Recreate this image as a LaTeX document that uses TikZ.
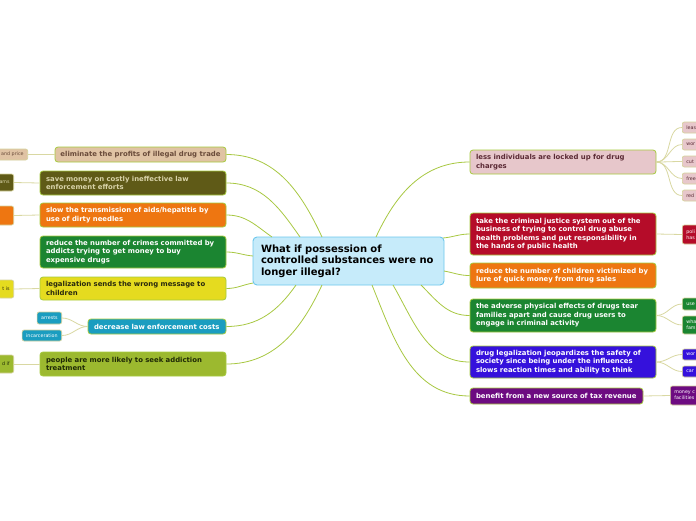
\documentclass[tikz,border=0pt]{standalone}
\usepackage{fontspec}
\setmainfont{DejaVu Sans}
\definecolor{bordergreen}{HTML}{A6CA3E}
\definecolor{linkgreen}{HTML}{A8C842}
\definecolor{sublinkc}{HTML}{D9D8A2}
\definecolor{subborder}{HTML}{D6D29C}
\definecolor{tanfill}{HTML}{E0C3A4}
\definecolor{tantext}{HTML}{6A4B3A}
\definecolor{olivefill}{HTML}{5F5A17}
\definecolor{olivetext}{HTML}{D8D3A8}
\definecolor{orangefill}{HTML}{EE7611}
\definecolor{greenfill}{HTML}{1B8531}
\definecolor{yellowfill}{HTML}{E5DB1F}
\definecolor{yellowtext}{HTML}{2A2A0E}
\definecolor{tealfill}{HTML}{1A9DC0}
\definecolor{ygfill}{HTML}{9CB92F}
\definecolor{ygtext}{HTML}{1F2A06}
\definecolor{pinkfill}{HTML}{E7C7CB}
\definecolor{pinktext}{HTML}{5B2A35}
\definecolor{crimsonfill}{HTML}{B50C29}
\definecolor{bluefill}{HTML}{3511DC}
\definecolor{purplefill}{HTML}{6D0B81}
\definecolor{centralfill}{HTML}{C6EBFA}
\definecolor{centralborder}{HTML}{6DC7EC}
\tikzset{
  topic/.style={draw=bordergreen, line width=0.8pt, rounded corners=3pt, inner xsep=6pt, inner ysep=1pt, align=left, font=\fontsize{6.9}{8.4}\selectfont\bfseries},
  subtopic/.style={draw=subborder, line width=0.7pt, rounded corners=2pt, inner xsep=4pt, inner ysep=1pt, align=left, font=\fontsize{4.8}{5.8}\selectfont},
  link/.style={draw=linkgreen, line width=0.8pt},
  sublink/.style={draw=sublinkc, line width=0.8pt},
}
\begin{document}
\begin{tikzpicture}[x=1pt,y=-1pt]
\useasboundingbox (0,0) rectangle (696,520);
\clip (0,0) rectangle (696,520);
\fill[white] (0,0) rectangle (696,520);

% central
\node[draw=centralborder, fill=centralfill, line width=0.9pt, rounded corners=4pt, inner xsep=8pt, inner ysep=1pt, text width=175pt, minimum height=48pt, align=left, font=\fontsize{10}{11.7}\selectfont\bfseries] (c) at (348.5,261) {What if possession of\\controlled substances were no\\longer illegal?};

% anchor points on central node
\coordinate (s1) at (322,237);
\coordinate (s2) at (300,237);
\coordinate (s3) at (272,237);
\coordinate (s4) at (253,256);
\coordinate (s5) at (253,283);
\coordinate (s6) at (296,285);
\coordinate (s7) at (322,285);
\coordinate (t1) at (376,237);
\coordinate (t2) at (443,238);
\coordinate (t3) at (444,271);
\coordinate (t4) at (421,285);
\coordinate (t5) at (393,285);
\coordinate (t6) at (372,285);

% left topics
\node[topic, fill=tanfill, text=tantext, inner xsep=3pt, minimum width=171pt, minimum height=15pt] (L1) at (140.5,154.5) {eliminate the profits of illegal drug trade};
\node[topic, fill=olivefill, text=olivetext, text width=174pt, minimum height=24pt] (L2) at (133,183) {save money on costly ineffective law\\enforcement efforts};
\node[topic, fill=orangefill, text=white, text width=174pt, minimum height=24pt] (L3) at (133,215) {slow the transmission of aids/hepatitis by\\use of dirty needles};
\node[topic, fill=greenfill, text=white, text width=174pt, minimum height=32pt] (L4) at (133,252) {reduce the number of crimes committed by\\addicts trying to get money to buy\\expensive drugs};
\node[topic, fill=yellowfill, text=yellowtext, text width=174pt, minimum height=23pt] (L5) at (133,288.5) {legalization sends the wrong message to\\children};
\node[topic, fill=tealfill, text=white, text width=126pt, minimum height=15pt] (L6) at (157,326.5) {decrease law enforcement costs};
\node[topic, fill=ygfill, text=ygtext, text width=174pt, minimum height=24pt] (L7) at (133,364) {people are more likely to seek addiction\\treatment};

% right topics
\node[topic, fill=pinkfill, text=pinktext, text width=174pt, minimum height=24pt] (R1) at (563,162) {less individuals are locked up for drug\\charges};
\node[topic, fill=crimsonfill, text=white, text width=174pt, minimum height=42pt] (R2) at (563,234) {take the criminal justice system out of the\\business of trying to control drug abuse\\health problems and put responsibility in\\the hands of public health};
\node[topic, fill=orangefill, text=white, text width=174pt, minimum height=25pt] (R3) at (563,275.5) {reduce the number of children victimized by\\lure of quick money from drug sales};
\node[topic, fill=greenfill, text=white, text width=174pt, minimum height=33pt] (R4) at (563,315.5) {the adverse physical effects of drugs tear\\families apart and cause drug users to\\engage in criminal activity};
\node[topic, fill=bluefill, text=white, text width=174pt, minimum height=32pt] (R5) at (563,362) {drug legalization jeopardizes the safety of\\society since being under the influences\\slows reaction times and ability to think};
\node[topic, fill=purplefill, text=white, text width=161pt, minimum height=16pt] (R6) at (556.5,396) {benefit from a new source of tax revenue};

% main links (angles are page angles)
\draw[link] (s1) to[out=115,in=0] (L1.east);
\draw[link] (s2) to[out=125,in=0] (L2.east);
\draw[link] (s3) to[out=145,in=0] (L3.east);
\draw[link] (s4) to[out=175,in=0] (L4.east);
\draw[link] (s5) to[out=190,in=0] (L5.east);
\draw[link] (s6) to[out=235,in=0] (L6.east);
\draw[link] (s7) to[out=245,in=0] (L7.east);
\draw[link] (t1) to[out=65,in=180] (R1.west);
\draw[link] (t2) to[out=5,in=180] (R2.west);
\draw[link] (t3) to[out=350,in=180] (R3.west);
\draw[link] (t4) to[out=315,in=180] (R4.west);
\draw[link] (t5) to[out=300,in=180] (R5.west);
\draw[link] (t6) to[out=292,in=180] (R6.west);

% left subtopics
\node[subtopic, fill=tanfill, text=tantext, anchor=east, minimum height=11pt] (a1) at (28,154.5) {and price};
\node[subtopic, fill=olivefill, text=olivetext, anchor=east, minimum height=17pt] (a2) at (14,182.5) {ams};
\node[subtopic, fill=orangefill, anchor=east, minimum height=19pt, minimum width=30pt] (a3) at (14,215.5) {};
\node[subtopic, fill=yellowfill, text=yellowtext, anchor=east, minimum height=18pt] (a5) at (14,289) {t is};
\node[subtopic, fill=tealfill, text=white, anchor=east, minimum height=12pt] (a6a) at (62,318) {arrests};
\node[subtopic, fill=tealfill, text=white, anchor=east, minimum height=11pt] (a6b) at (62,335.5) {incarceration};
\node[subtopic, fill=ygfill, text=ygtext, anchor=east, minimum height=18pt] (a7) at (14,364) {d if};

\draw[sublink] (L1.west) -- (a1.east);
\draw[sublink] (L2.west) -- (a2.east);
\draw[sublink] (L3.west) -- (a3.east);
\draw[sublink] (L5.west) -- (a5.east);
\draw[sublink] (L6.west) to[out=180,in=0] (a6a.east);
\draw[sublink] (L6.west) to[out=180,in=0] (a6b.east);
\draw[sublink] (L7.west) -- (a7.east);

% right subtopics
\node[subtopic, fill=pinkfill, text=pinktext, anchor=west, minimum height=11pt, text width=24pt] (b1) at (682,127.5) {leas};
\node[subtopic, fill=pinkfill, text=pinktext, anchor=west, minimum height=11pt, text width=24pt] (b2) at (682,144.5) {wor};
\node[subtopic, fill=pinkfill, text=pinktext, anchor=west, minimum height=11pt, text width=24pt] (b3) at (682,161.5) {cut};
\node[subtopic, fill=pinkfill, text=pinktext, anchor=west, minimum height=11pt, text width=24pt] (b4) at (682,178.5) {free};
\node[subtopic, fill=pinkfill, text=pinktext, anchor=west, minimum height=11pt, text width=24pt] (b5) at (682,195.5) {red};
\node[subtopic, fill=crimsonfill, text=white, anchor=west, minimum height=19pt, text width=24pt] (b6) at (682,234.5) {poli\\has};
\node[subtopic, fill=greenfill, text=white, anchor=west, minimum height=12pt, text width=24pt] (b7) at (682,304) {use};
\node[subtopic, fill=greenfill, text=white, anchor=west, minimum height=18pt, text width=24pt] (b8) at (682,325) {wha\\fam};
\node[subtopic, fill=bluefill, text=white, anchor=west, minimum height=11pt, text width=24pt] (b9) at (682,354.5) {wor};
\node[subtopic, fill=bluefill, text=white, anchor=west, minimum height=11pt, text width=24pt] (b10) at (682,371.5) {car};
\node[subtopic, fill=purplefill, text=white, anchor=west, minimum height=19pt, text width=36pt] (b11) at (670,395.5) {money c\\facilities};

\foreach \b in {b1,b2,b3,b4,b5}{\draw[sublink] (R1.east) to[out=0,in=180] (\b.west);}
\draw[sublink] (R2.east) -- (b6.west);
\draw[sublink] (R4.east) to[out=0,in=180] (b7.west);
\draw[sublink] (R4.east) to[out=0,in=180] (b8.west);
\draw[sublink] (R5.east) to[out=0,in=180] (b9.west);
\draw[sublink] (R5.east) to[out=0,in=180] (b10.west);
\draw[sublink] (R6.east) -- (b11.west);
\end{tikzpicture}
\end{document}
